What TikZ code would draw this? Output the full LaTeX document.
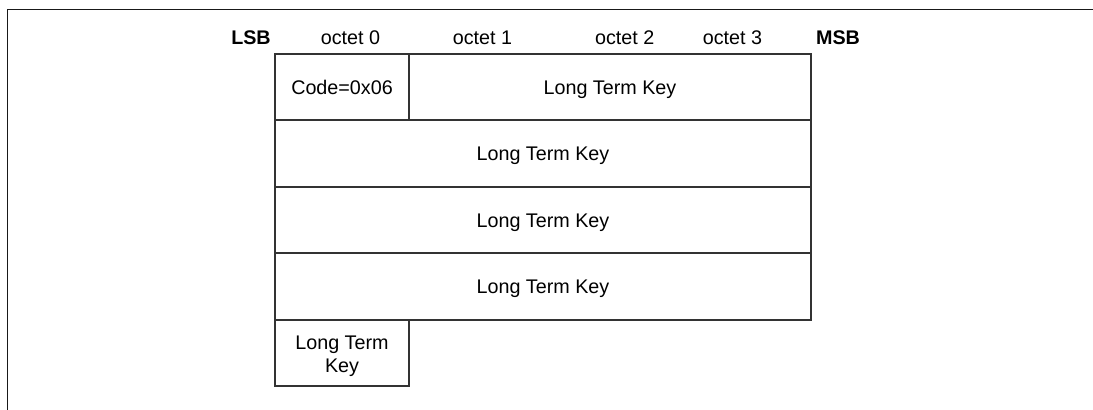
\documentclass[tikz,border=0pt]{standalone}
\usepackage{fontspec}
\setmainfont{Liberation Sans}
\begin{document}
\begin{tikzpicture}[x=0.75pt,y=-0.75pt,
  lbl/.style={anchor=base,inner sep=0pt,font=\fontsize{14.8pt}{17.25pt}\selectfont},
  blbl/.style={lbl,font=\fontsize{14.8pt}{17.25pt}\selectfont\bfseries},
  cell/.style={draw=black!80,line width=0.9pt}]
\useasboundingbox (0,0) rectangle (1093,410);
\draw[black!90,line width=1.3pt] (7.5,410) -- (7.5,9.5) -- (1093,9.5);
% header
\node[blbl] (lsb) at (251,45) {LSB};
\node[lbl] (o0) at (350.5,45) {octet 0};
\node[lbl] (o1) at (482.5,45) {octet 1};
\node[lbl] (o2) at (624.7,45) {octet 2};
\node[lbl] (o3) at (732.5,45) {octet 3};
\node[blbl] (msb) at (838,45) {MSB};
% cells
\draw[cell] (275,54) rectangle (409,120);
\draw[cell] (409,54) rectangle (811,120);
\draw[cell] (275,120) rectangle (811,187);
\draw[cell] (275,187) rectangle (811,253);
\draw[cell] (275,253) rectangle (811,320);
\draw[cell] (275,320) rectangle (409,386);
\node[lbl] (code) at (342,94) {Code=0x06};
\node[lbl] (k1) at (610,94) {Long Term Key};
\node[lbl] (k2) at (543,160.5) {Long Term Key};
\node[lbl] (k3) at (543,227) {Long Term Key};
\node[lbl] (k4) at (543,293.5) {Long Term Key};
\node[lbl] (k5a) at (342,349) {Long Term};
\node[lbl] (k5b) at (342,372) {Key};
\end{tikzpicture}
\end{document}
